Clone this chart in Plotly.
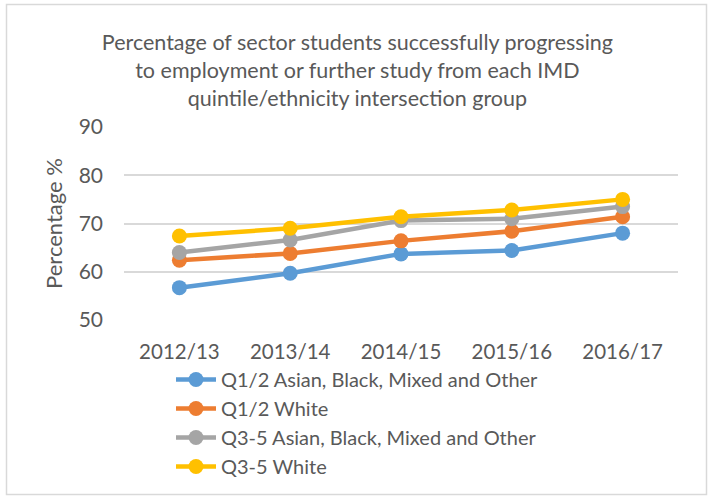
import plotly.graph_objects as go

years = ["2012/13", "2013/14", "2014/15", "2015/16", "2016/17"]
series_names = [
    "Q1/2 Asian, Black, Mixed and Other",
    "Q1/2 White",
    "Q3-5 Asian, Black, Mixed and Other",
    "Q3-5 White",
]
q12_abmo = [56.7, 59.7, 63.7, 64.4, 68.0]
q12_white = [62.4, 63.8, 66.4, 68.4, 71.4]
q35_abmo = [64.0, 66.6, 70.6, 71.0, 73.5]
q35_white = [67.4, 69.0, 71.4, 72.8, 75.0]
y_ticks = [50, 60, 70, 80, 90]

colors = ["#5B9BD5", "#ED7D31", "#A5A5A5", "#FFC000"]
font_family = "Lato, 'Open Sans', sans-serif"
text_color = "#595959"

fig = go.Figure()
for name, vals, col in zip(series_names, [q12_abmo, q12_white, q35_abmo, q35_white], colors):
    fig.add_trace(go.Scatter(
        x=years, y=vals, name=name, mode="lines+markers",
        line=dict(color=col, width=4.5),
        marker=dict(color=col, size=15),
    ))

W, H = 712, 497
ml, mr, mt, mb = 124, 34, 127, 177
pw, ph = W - ml - mr, H - mt - mb

def px_x(p):
    return (p - ml) / pw

def px_y(p):
    return (H - mb - p) / ph

fig.update_layout(
    width=W, height=H,
    margin=dict(l=ml, r=mr, t=mt, b=mb, autoexpand=False),
    paper_bgcolor="white", plot_bgcolor="white",
    font=dict(family=font_family, color=text_color, size=20),
    title=dict(
        text="Percentage of sector students successfully progressing<br>"
             "to employment or further study from each IMD<br>"
             "quintile/ethnicity intersection group",
        x=0.502, xanchor="center", xref="container",
        y=1 - 50 / H, yanchor="top", yref="container",
        font=dict(size=21.5, color=text_color, family=font_family),
    ),
    xaxis=dict(
        type="category", range=[-0.5, 4.5],
        showgrid=False, zeroline=False, showline=False,
        ticks="", ticklabelstandoff=17,
        tickfont=dict(size=20.5, color=text_color),
    ),
    yaxis=dict(
        range=[50, 90], tickvals=y_ticks,
        showgrid=True, gridcolor="#D9D9D9", gridwidth=1.5,
        zeroline=False, showline=False, ticks="",
        ticklabelstandoff=20,
        tickfont=dict(size=21, color=text_color),
        title=dict(text="Percentage %", standoff=9,
                   font=dict(size=22, color=text_color)),
    ),
    legend=dict(
        x=px_x(171), xanchor="left",
        y=px_y(360), yanchor="top",
        bgcolor="rgba(0,0,0,0)",
        font=dict(size=20, color=text_color),
        itemwidth=40, tracegroupgap=0,
    ),
    showlegend=True,
    shapes=[dict(
        type="rect", xref="paper", yref="paper",
        x0=px_x(6.5), x1=px_x(706.5), y0=px_y(494.5), y1=px_y(4.5),
        line=dict(color="#D9D9D9", width=1.5), fillcolor="rgba(0,0,0,0)",
        layer="below",
    )],
)

fig.write_html("out.html")
